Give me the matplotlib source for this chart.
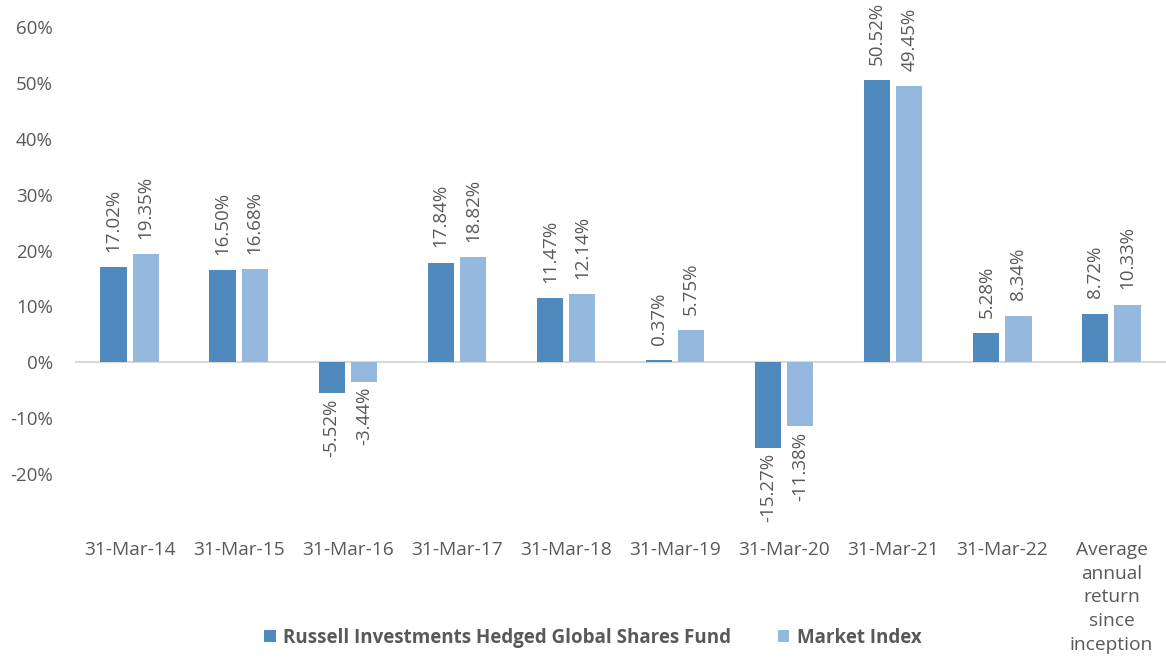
import matplotlib
matplotlib.use("Agg")
import matplotlib.pyplot as plt
import numpy as np
from matplotlib.ticker import FuncFormatter

categories = ["31-Mar-14", "31-Mar-15", "31-Mar-16", "31-Mar-17", "31-Mar-18",
              "31-Mar-19", "31-Mar-20", "31-Mar-21", "31-Mar-22",
              "Average\nannual\nreturn\nsince\ninception"]
fund = [17.02, 16.50, -5.52, 17.84, 11.47, 0.37, -15.27, 50.52, 5.28, 8.72]
index = [19.35, 16.68, -3.44, 18.82, 12.14, 5.75, -11.38, 49.45, 8.34, 10.33]
series_names = ["Russell Investments Hedged Global Shares Fund", "Market Index"]

plt.rcParams['font.family'] = ['Open Sans', 'DejaVu Sans']
txt = '#595959'
c1 = '#4F89BD'
c2 = '#95B8DE'

fig = plt.figure(figsize=(11.66, 6.72), dpi=100)
ax = fig.add_axes([75/1166, (672-530)/672, 1 - 75/1166, (530-27)/672])

x = np.arange(len(categories))
w = 0.24
g = 0.055
b1 = ax.bar(x - (w + g)/2, fund, w, color=c1, label=series_names[0])
b2 = ax.bar(x + (w + g)/2, index, w, color=c2, label=series_names[1])

for bars, vals in ((b1, fund), (b2, index)):
    for r, v in zip(bars, vals):
        xc = r.get_x() + r.get_width()/2
        if v >= 0:
            ax.annotate(f"{v:.2f}%", (xc, v), xytext=(0, 11), textcoords='offset points',
                        rotation=90, ha='center', va='bottom', fontsize=13.5, color=txt)
        else:
            ax.annotate(f"{v:.2f}%", (xc, v), xytext=(0, -4), textcoords='offset points',
                        rotation=90, ha='center', va='top', fontsize=13.5, color=txt)

ax.set_xlim(-0.5, len(categories) - 0.5)
ax.set_ylim(-30, 60)
ax.set_yticks(np.arange(-20, 61, 10))
ax.yaxis.set_major_formatter(FuncFormatter(lambda v, p: f"{v:.0f}%"))
ax.axhline(0, color='#D9D9D9', lw=1.5, zorder=0)
for s in ax.spines.values():
    s.set_visible(False)
ax.tick_params(axis='y', length=0, labelsize=13.5, labelcolor=txt, pad=16)
ax.set_xticks(x)
ax.set_xticklabels(categories, fontsize=13.8, color=txt, linespacing=1.4, va='top')
ax.tick_params(axis='x', length=0, pad=8)

leg = ax.legend(loc='center', ncol=2, frameon=False, handlelength=0.6, handleheight=0.6,
                columnspacing=2.5, handletextpad=0.4, prop={'weight': 'bold', 'size': 13.5})
leg.set_bbox_to_anchor((593/1166, (672-638)/672), transform=fig.transFigure)
for t in leg.get_texts():
    t.set_color(txt)

fig.savefig("out.png", dpi=100)
